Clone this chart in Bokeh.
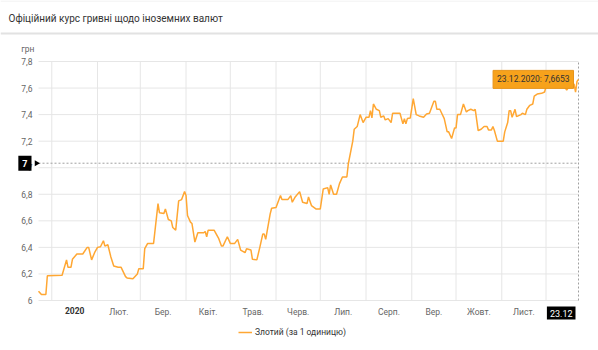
import pandas as pd
from bokeh.plotting import figure
from bokeh.models import (Range1d, FixedTicker, Label, Legend, LegendItem, LinearAxis,
                          ColumnDataSource, CustomJSTickFormatter, BoxAnnotation)
from bokeh.embed import file_html
from bokeh.resources import INLINE

# ---------------- data ----------------
title_text = "Офіційний курс гривні щодо іноземних валют"
series_name = "Злотий (за 1 одиницю)"
unit_label = "грн"

dates = [
    "2019-12-23", "2019-12-25", "2019-12-28", "2019-12-29", "2020-01-08", "2020-01-11",
    "2020-01-12", "2020-01-14", "2020-01-15", "2020-01-18", "2020-01-22", "2020-01-25",
    "2020-01-26", "2020-01-28", "2020-01-30", "2020-02-01", "2020-02-03", "2020-02-05",
    "2020-02-06", "2020-02-08", "2020-02-10", "2020-02-12", "2020-02-15", "2020-02-17",
    "2020-02-20", "2020-02-21", "2020-02-25", "2020-02-28", "2020-02-29", "2020-03-03",
    "2020-03-04", "2020-03-06", "2020-03-10", "2020-03-13", "2020-03-14", "2020-03-17",
    "2020-03-18", "2020-03-20", "2020-03-22", "2020-03-23", "2020-03-25", "2020-03-27",
    "2020-03-29", "2020-03-31", "2020-04-01", "2020-04-02", "2020-04-04", "2020-04-05",
    "2020-04-07", "2020-04-09", "2020-04-13", "2020-04-14", "2020-04-15", "2020-04-16",
    "2020-04-20", "2020-04-23", "2020-04-25", "2020-04-26", "2020-04-29", "2020-05-01",
    "2020-05-04", "2020-05-06", "2020-05-08", "2020-05-11", "2020-05-12", "2020-05-15",
    "2020-05-16", "2020-05-19", "2020-05-21", "2020-05-23", "2020-05-24", "2020-05-25",
    "2020-05-28", "2020-05-29", "2020-06-01", "2020-06-04", "2020-06-05", "2020-06-09",
    "2020-06-11", "2020-06-12", "2020-06-14", "2020-06-17", "2020-06-19", "2020-06-22",
    "2020-06-23", "2020-06-25", "2020-06-28", "2020-07-01", "2020-07-03", "2020-07-06",
    "2020-07-07", "2020-07-08", "2020-07-10", "2020-07-12", "2020-07-14", "2020-07-16",
    "2020-07-19", "2020-07-20", "2020-07-23", "2020-07-24", "2020-07-26", "2020-07-28",
    "2020-07-30", "2020-08-01", "2020-08-03", "2020-08-04", "2020-08-05", "2020-08-06",
    "2020-08-08", "2020-08-10", "2020-08-11", "2020-08-13", "2020-08-14", "2020-08-16",
    "2020-08-18", "2020-08-19", "2020-08-24", "2020-08-26", "2020-08-27", "2020-08-28",
    "2020-08-29", "2020-08-31", "2020-09-02", "2020-09-04", "2020-09-06", "2020-09-09",
    "2020-09-11", "2020-09-13", "2020-09-16", "2020-09-17", "2020-09-18", "2020-09-20",
    "2020-09-23", "2020-09-25", "2020-09-26", "2020-09-28", "2020-09-30", "2020-10-01",
    "2020-10-02", "2020-10-04", "2020-10-06", "2020-10-08", "2020-10-09", "2020-10-11",
    "2020-10-13", "2020-10-14", "2020-10-16", "2020-10-18", "2020-10-20", "2020-10-22",
    "2020-10-23", "2020-10-25", "2020-10-26", "2020-10-27", "2020-10-29", "2020-11-02",
    "2020-11-03", "2020-11-05", "2020-11-06", "2020-11-07", "2020-11-08", "2020-11-10",
    "2020-11-11", "2020-11-14", "2020-11-15", "2020-11-17", "2020-11-18", "2020-11-20",
    "2020-11-22", "2020-11-23", "2020-11-25", "2020-11-28", "2020-11-30", "2020-12-01",
    "2020-12-04", "2020-12-08", "2020-12-12", "2020-12-15", "2020-12-17", "2020-12-20",
    "2020-12-21", "2020-12-22", "2020-12-23",
]
rates = [
    6.07, 6.045, 6.045, 6.186, 6.19, 6.306,
    6.25, 6.25, 6.31, 6.35, 6.35, 6.40,
    6.40, 6.306, 6.36, 6.40, 6.405, 6.45,
    6.41, 6.42, 6.33, 6.26, 6.25, 6.25,
    6.18, 6.17, 6.163, 6.20, 6.24, 6.24,
    6.39, 6.43, 6.43, 6.73, 6.66, 6.655,
    6.69, 6.61, 6.60, 6.55, 6.53, 6.75,
    6.76, 6.82, 6.79, 6.64, 6.59, 6.58,
    6.44, 6.51, 6.51, 6.52, 6.48, 6.53,
    6.53, 6.47, 6.41, 6.41, 6.48, 6.43,
    6.43, 6.46, 6.38, 6.36, 6.39, 6.38,
    6.31, 6.306, 6.40, 6.50, 6.50, 6.46,
    6.65, 6.695, 6.70, 6.79, 6.76, 6.76,
    6.79, 6.74, 6.78, 6.82, 6.74, 6.73,
    6.78, 6.715, 6.69, 6.69, 6.84, 6.85,
    6.80, 6.87, 6.80, 6.80, 6.88, 6.93,
    6.93, 7.03, 7.20, 7.29, 7.31, 7.40,
    7.34, 7.38, 7.38, 7.43, 7.375, 7.48,
    7.44, 7.43, 7.38, 7.39, 7.36, 7.37,
    7.34, 7.41, 7.41, 7.33, 7.37, 7.33,
    7.37, 7.375, 7.52, 7.40, 7.39, 7.38,
    7.405, 7.41, 7.50, 7.50, 7.44, 7.44,
    7.37, 7.27, 7.27, 7.22, 7.30, 7.30,
    7.40, 7.40, 7.48, 7.42, 7.43, 7.44,
    7.43, 7.44, 7.28, 7.29, 7.31, 7.31,
    7.285, 7.285, 7.31, 7.28, 7.20, 7.20,
    7.27, 7.34, 7.43, 7.43, 7.38, 7.44,
    7.385, 7.40, 7.41, 7.40, 7.44, 7.47,
    7.48, 7.54, 7.555, 7.56, 7.57, 7.61,
    7.63, 7.65, 7.64, 7.585, 7.62, 7.63,
    7.57, 7.65, 7.6653,
]

month_starts = ["2020-01-01", "2020-02-01", "2020-03-01", "2020-04-01", "2020-05-01",
                "2020-06-01", "2020-07-01", "2020-08-01", "2020-09-01", "2020-10-01",
                "2020-11-01", "2020-12-01"]
month_labels = ["2020", "Лют.", "Бер.", "Квіт.", "Трав.", "Черв.", "Лип.", "Серп.",
                "Вер.", "Жовт.", "Лист."]
y_ticks = [6.0, 6.2, 6.4, 6.6, 6.8, 7.0, 7.2, 7.4, 7.6, 7.8]

crosshair_value = 7.034
crosshair_text = "7"
last_date_text = "23.12"
tooltip_text = "23.12.2020: 7,6653"

# ---------------- helpers ----------------
def to_ms(ds):
    return [float(v) for v in pd.to_datetime(ds).values.astype("datetime64[ms]").astype("int64")]

xs = to_ms(dates)
ms_starts = to_ms(month_starts)
label_ticks = [(a + b) / 2 for a, b in zip(ms_starts[:-1], ms_starts[1:])]

LINE = "#ffa733"
GRID = "#e6e6e6"
FONT = "Roboto"

# canvas / plot-area geometry (pixels)
W, H = 598, 350
PL, PR, PT, PB = 38, 578, 61, 300
ymin, ymax = y_ticks[0], y_ticks[-1]
kx = (xs[-1] - xs[0]) / (PR - PL)
ky = (ymax - ymin) / (PB - PT)
x_rng = Range1d(xs[0] - PL * kx, xs[-1] + (W - PR) * kx)
y_rng = Range1d(ymin - (H - PB) * ky, ymax + PT * ky)

p = figure(width=W, height=H, x_range=x_rng, y_range=y_rng,
           output_backend="svg", toolbar_location=None,
           x_axis_location=None, y_axis_location=None, min_border=0)
p.outline_line_color = None
for g in p.grid:
    g.visible = False

# axes drawn at the edges of the data area
xaxis = LinearAxis(fixed_location=ymin, ticker=FixedTicker(ticks=label_ticks))
overrides = {t: lab for t, lab in zip(label_ticks, month_labels)}
overrides[label_ticks[0]] = ""
xaxis.major_label_overrides = overrides
xaxis.major_tick_line_color = None
xaxis.major_tick_out = 0
xaxis.major_tick_in = 0
xaxis.minor_tick_line_color = None
xaxis.axis_line_color = None
xaxis.major_label_standoff = 6
xaxis.major_label_text_font = FONT
xaxis.major_label_text_font_size = "8.5px"
xaxis.major_label_text_color = "#666666"
p.add_layout(xaxis, "below")

yaxis = LinearAxis(fixed_location=xs[0], ticker=FixedTicker(ticks=y_ticks))
yaxis.formatter = CustomJSTickFormatter(code="return String(tick).replace('.', ',');")
yaxis.major_tick_line_color = None
yaxis.major_tick_out = 0
yaxis.major_tick_in = 0
yaxis.minor_tick_line_color = None
yaxis.axis_line_color = None
yaxis.major_label_standoff = 6
yaxis.major_label_text_font = FONT
yaxis.major_label_text_font_size = "8.5px"
yaxis.major_label_text_color = "#666666"
p.add_layout(yaxis, "left")

# grid lines limited to the data area
p.segment(x0=[xs[0]] * len(y_ticks), y0=y_ticks, x1=[xs[-1]] * len(y_ticks), y1=y_ticks,
          line_color=GRID, line_width=1)
p.segment(x0=ms_starts, y0=[ymin] * len(ms_starts), x1=ms_starts, y1=[ymax] * len(ms_starts),
          line_color=GRID, line_width=1)

# crosshairs
p.segment(x0=[xs[0]], y0=[crosshair_value], x1=[xs[-1]], y1=[crosshair_value],
          line_color="#a0a0a0", line_width=1, line_dash="2 2")
p.segment(x0=[xs[-1]], y0=[ymin], x1=[xs[-1]], y1=[ymax],
          line_color="#a0a0a0", line_width=1, line_dash="2 2")

src = ColumnDataSource(dict(x=xs, y=rates))
ln = p.line("x", "y", source=src, line_color=LINE, line_width=1.5)

# header
p.add_layout(BoxAnnotation(left=0, right=W, bottom=H - 34, top=H - 32, left_units="screen",
                           right_units="screen", top_units="screen", bottom_units="screen",
                           fill_color="#e2e2e2", fill_alpha=1, line_color=None))
p.add_layout(BoxAnnotation(left=0, right=W, bottom=H - 1, top=H, left_units="screen",
                           right_units="screen", top_units="screen", bottom_units="screen",
                           fill_color="#eeeeee", fill_alpha=1, line_color=None))
p.add_layout(Label(x=8, y=H - 18, x_units="screen", y_units="screen", text=title_text,
                   text_font=FONT, text_font_size="10px", text_color="#333333",
                   text_baseline="middle"))

# bold year label
p.add_layout(Label(x=label_ticks[0], y=ymin, y_offset=-6, text=month_labels[0],
                   text_align="center", text_baseline="top", text_font=FONT,
                   text_font_size="8.5px", text_font_style="bold", text_color="#333333"))
# unit label
p.add_layout(Label(x=xs[0], y=ymax, x_offset=-4, y_offset=13, text=unit_label,
                   text_align="right", text_baseline="middle", text_font=FONT,
                   text_font_size="8.5px", text_color="#666666"))
# crosshair value label with pointer
p.scatter(x=[xs[0] - 2 * kx], y=[crosshair_value], marker="triangle", angle=-1.5708, size=6,
          fill_color="black", line_color=None)
p.add_layout(Label(x=xs[0], y=crosshair_value, x_offset=-7, text=crosshair_text,
                   text_align="right", text_baseline="middle", text_font=FONT,
                   text_font_size="9px", text_font_style="bold", text_color="white",
                   background_fill_color="black", padding=4))
# crosshair date label
p.add_layout(Label(x=xs[-1], y=ymin, x_offset=-3, y_offset=-6, text=last_date_text,
                   text_align="right", text_baseline="top", text_font=FONT,
                   text_font_size="9px", text_color="white",
                   background_fill_color="black", padding=3))
# tooltip
p.add_layout(Label(x=xs[-1], y=rates[-1], x_offset=-5, text=tooltip_text,
                   text_align="right", text_baseline="middle", text_font=FONT,
                   text_font_size="8.5px", text_color="#333333",
                   background_fill_color="#f7a21b", border_line_color="#e8941a",
                   padding=4))

legend = Legend(items=[LegendItem(label=series_name, renderers=[ln])],
                orientation="horizontal", location=(238, 12),
                label_text_font=FONT, label_text_font_size="8.5px", label_text_color="#333333",
                glyph_width=14, glyph_height=12, label_height=12, label_standoff=3,
                padding=2, margin=0, border_line_color=None, background_fill_alpha=0)
p.add_layout(legend)

open("out.html", "w").write(file_html(p, INLINE))
